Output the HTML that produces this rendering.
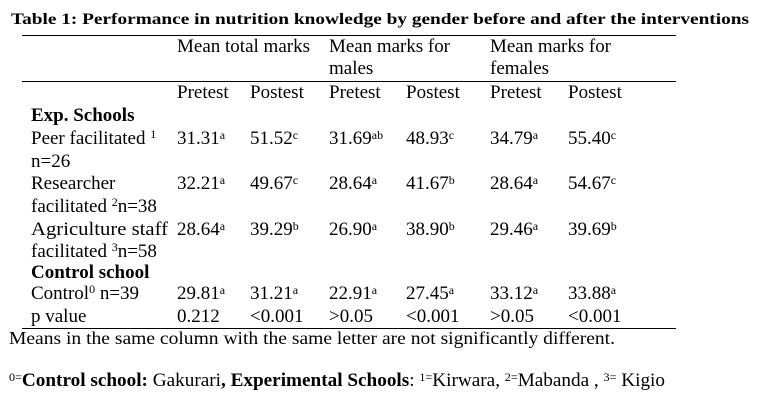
<!DOCTYPE html>
<html><head><meta charset="utf-8"><style>
html,body{margin:0;padding:0;background:#fff}
svg{display:block;font-family:"Liberation Serif",serif;fill:#000}
.b{font-weight:bold}
</style></head><body>
<svg width="762" height="401" viewBox="0 0 762 401">
<text x="11" y="24" class="b" font-size="16" textLength="738" lengthAdjust="spacingAndGlyphs">Table 1: Performance in nutrition knowledge by gender  before and after the interventions</text>
<line x1="22" y1="35.5" x2="676" y2="35.5" stroke="#000" stroke-width="1"/>
<line x1="22" y1="81.5" x2="676" y2="81.5" stroke="#000" stroke-width="1"/>
<line x1="22" y1="328.5" x2="676" y2="328.5" stroke="#000" stroke-width="1"/>
<g font-size="19">
<text x="177" y="52" textLength="133" lengthAdjust="spacingAndGlyphs">Mean total marks</text>
<text x="329" y="52" textLength="121" lengthAdjust="spacingAndGlyphs">Mean marks for</text>
<text x="329" y="74">males</text>
<text x="490" y="52" textLength="121" lengthAdjust="spacingAndGlyphs">Mean marks for</text>
<text x="490" y="74">females</text>
<text x="177" y="98">Pretest</text><text x="250" y="98">Postest</text>
<text x="329" y="98">Pretest</text><text x="406" y="98">Postest</text>
<text x="490" y="98">Pretest</text><text x="568" y="98">Postest</text>
</g>
<g font-size="19">
<text x="31" y="121" class="b">Exp. Schools</text>
<text x="31" y="144">Peer facilitated <tspan font-size="12" dy="-6">1</tspan></text>
<text x="31" y="167">n=26</text>
<text x="31" y="189">Researcher</text>
<text x="31" y="212">facilitated <tspan font-size="12" dy="-6">2</tspan><tspan dy="6">n=38</tspan></text>
<text x="31" y="235" textLength="137" lengthAdjust="spacingAndGlyphs">Agriculture staff</text>
<text x="31" y="257">facilitated <tspan font-size="12" dy="-6">3</tspan><tspan dy="6">n=58</tspan></text>
<text x="31" y="278" class="b">Control school</text>
<text x="31" y="299">Control<tspan font-size="12" dy="-6">0</tspan><tspan dy="6">  n=39</tspan></text>
<text x="31" y="322">p value</text>
</g>
<g font-size="19">
<text x="177" y="144">31.31<tspan font-size="12" dy="-5">a</tspan></text>
<text x="250" y="144">51.52<tspan font-size="12" dy="-5">c</tspan></text>
<text x="329" y="144">31.69<tspan font-size="12" dy="-5">ab</tspan></text>
<text x="406" y="144">48.93<tspan font-size="12" dy="-5">c</tspan></text>
<text x="490" y="144">34.79<tspan font-size="12" dy="-5">a</tspan></text>
<text x="568" y="144">55.40<tspan font-size="12" dy="-5">c</tspan></text>
<text x="177" y="189">32.21<tspan font-size="12" dy="-5">a</tspan></text>
<text x="250" y="189">49.67<tspan font-size="12" dy="-5">c</tspan></text>
<text x="329" y="189">28.64<tspan font-size="12" dy="-5">a</tspan></text>
<text x="406" y="189">41.67<tspan font-size="12" dy="-5">b</tspan></text>
<text x="490" y="189">28.64<tspan font-size="12" dy="-5">a</tspan></text>
<text x="568" y="189">54.67<tspan font-size="12" dy="-5">c</tspan></text>
<text x="177" y="235">28.64<tspan font-size="12" dy="-5">a</tspan></text>
<text x="250" y="235">39.29<tspan font-size="12" dy="-5">b</tspan></text>
<text x="329" y="235">26.90<tspan font-size="12" dy="-5">a</tspan></text>
<text x="406" y="235">38.90<tspan font-size="12" dy="-5">b</tspan></text>
<text x="490" y="235">29.46<tspan font-size="12" dy="-5">a</tspan></text>
<text x="568" y="235">39.69<tspan font-size="12" dy="-5">b</tspan></text>
<text x="177" y="299">29.81<tspan font-size="12" dy="-5">a</tspan></text>
<text x="250" y="299">31.21<tspan font-size="12" dy="-5">a</tspan></text>
<text x="329" y="299">22.91<tspan font-size="12" dy="-5">a</tspan></text>
<text x="406" y="299">27.45<tspan font-size="12" dy="-5">a</tspan></text>
<text x="490" y="299">33.12<tspan font-size="12" dy="-5">a</tspan></text>
<text x="568" y="299">33.88<tspan font-size="12" dy="-5">a</tspan></text>
<text x="177" y="322">0.212</text>
<text x="250" y="322">&lt;0.001</text>
<text x="329" y="322">&gt;0.05</text>
<text x="406" y="322">&lt;0.001</text>
<text x="490" y="322">&gt;0.05</text>
<text x="568" y="322">&lt;0.001</text>
</g>
<text x="9" y="344" font-size="18" textLength="606" lengthAdjust="spacingAndGlyphs">Means in the same column with the same letter are not significantly different.</text>
<text x="9" y="386" font-size="19" textLength="656" lengthAdjust="spacingAndGlyphs"><tspan font-size="12" dy="-5">0=</tspan><tspan dy="5" class="b">Control school:</tspan> Gakurari<tspan class="b">, Experimental Schools</tspan>: <tspan font-size="12" dy="-5">1=</tspan><tspan dy="5">Kirwara, </tspan><tspan font-size="12" dy="-5">2=</tspan><tspan dy="5">Mabanda , </tspan><tspan font-size="12" dy="-5">3=</tspan><tspan dy="5"> Kigio</tspan></text>
</svg>
</body></html>
